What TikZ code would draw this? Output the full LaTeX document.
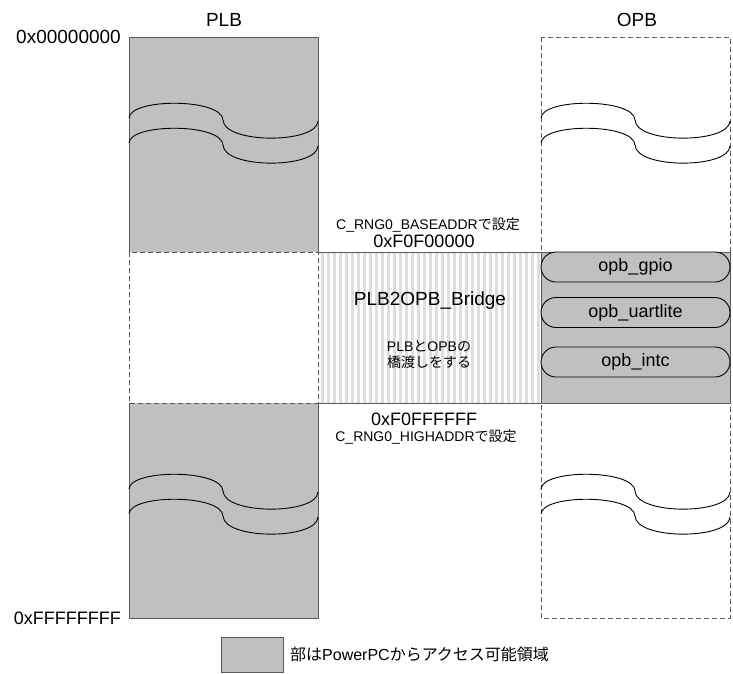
\documentclass[tikz,border=0pt]{standalone}
\usepackage{fontspec}
\setmainfont{Liberation Sans}
\newfontfamily\cjk{Noto Sans CJK JP}
\definecolor{boxgray}{HTML}{C0C0C0}
\definecolor{edgegray}{HTML}{5A5A5A}
\definecolor{stripegray}{HTML}{DEDEDE}
\begin{document}
\begin{tikzpicture}[x=1pt,y=-1pt,
  edge/.style={draw=edgegray,line width=1pt},
  dashedge/.style={draw=edgegray,line width=1pt,dash pattern=on 5pt off 3pt},
  breakline/.style={draw=black,line width=0.9pt},
  brk/.pic={\path[breakline] (0,0) .. controls (1,-20) and (93,-20) .. (94,2) .. controls (95,26) and (188,26) .. (189,3);},
  pill/.style={draw=black,line width=0.9pt,fill=boxgray,rounded corners=15pt,minimum width=189pt,minimum height=30pt,inner sep=0pt,font=\fontsize{18}{20}\selectfont},
  big/.style={font=\fontsize{19}{22}\selectfont,inner sep=0pt},
  addr/.style={font=\fontsize{18}{20}\selectfont,inner sep=0pt},
  small/.style={font=\fontsize{14}{16}\selectfont,inner sep=0pt},
  legend/.style={font=\fontsize{16}{18}\selectfont,inner sep=0pt}]
\useasboundingbox (0,0) rectangle (733,673);

% ---- PLB column ----
\fill[boxgray] (129,37) rectangle (318,252);
\fill[boxgray] (129,403) rectangle (318,618);
\path[edge] (129,252) -- (129,37) -- (318,37) -- (318,252);
\path[edge] (129,403) -- (129,618) -- (318,618) -- (318,403);
\pic at (129,118) {brk};
\pic at (129,143) {brk};
\pic at (129,489) {brk};
\pic at (129,514) {brk};

% ---- Bridge ----
\begin{scope}
\clip (318,252) rectangle (541,403);
\foreach \i in {0,...,37} {\fill[stripegray] ({321+6*\i},252) rectangle ++(3,151);}
\end{scope}
\path[edge] (318,252) -- (541,252);
\path[edge] (318,403) -- (541,403);
\path[dashedge] (129,252) rectangle (318,403);

% ---- OPB column ----
\path[dashedge] (541,37) rectangle (730,618);
\fill[boxgray] (541,252) rectangle (730,403);
\path[edge] (541,252) rectangle (730,403);
\pic at (541,118) {brk};
\pic at (541,143) {brk};
\pic at (541,489) {brk};
\pic at (541,514) {brk};

\node[pill] (gpio) at (635.5,267) {opb\_gpio};
\node[pill] (uart) at (635.5,312.5) {opb\_uartlite};
\node[pill] (intc) at (635.5,362) {opb\_intc};

% ---- labels ----
\node[big,anchor=base] (plb) at (224,26) {PLB};
\node[big,anchor=base] (opb) at (637,26) {OPB};
\node[big,anchor=base east] (a0) at (121,43) {0x00000000};
\node[addr,anchor=base east] (a1) at (121,624) {0xFFFFFFFF};
\node[small,anchor=base] (basecap) at (428,229) {C\_RNG0\_BASEADDR{\cjk で設定}};
\node[addr,anchor=base] (base) at (424,247) {0xF0F00000};
\node[big,anchor=base] (bridge) at (430,305) {PLB2OPB\_Bridge};
\node[small,anchor=base] (br1) at (429,351) {PLB{\cjk と}OPB{\cjk の}};
\node[small,anchor=base] (br2) at (429,367) {\cjk 橋渡しをする};
\node[addr,anchor=base] (high) at (424,425) {0xF0FFFFFF};
\node[small,anchor=base] (highcap) at (426,441) {C\_RNG0\_HIGHADDR{\cjk で設定}};

% ---- legend ----
\path[edge,fill=boxgray] (221,637) rectangle (283,672);
\node[legend,anchor=base west] (leg) at (290,660) {{\cjk 部は}PowerPC{\cjk からアクセス可能領域}};
\end{tikzpicture}
\end{document}
